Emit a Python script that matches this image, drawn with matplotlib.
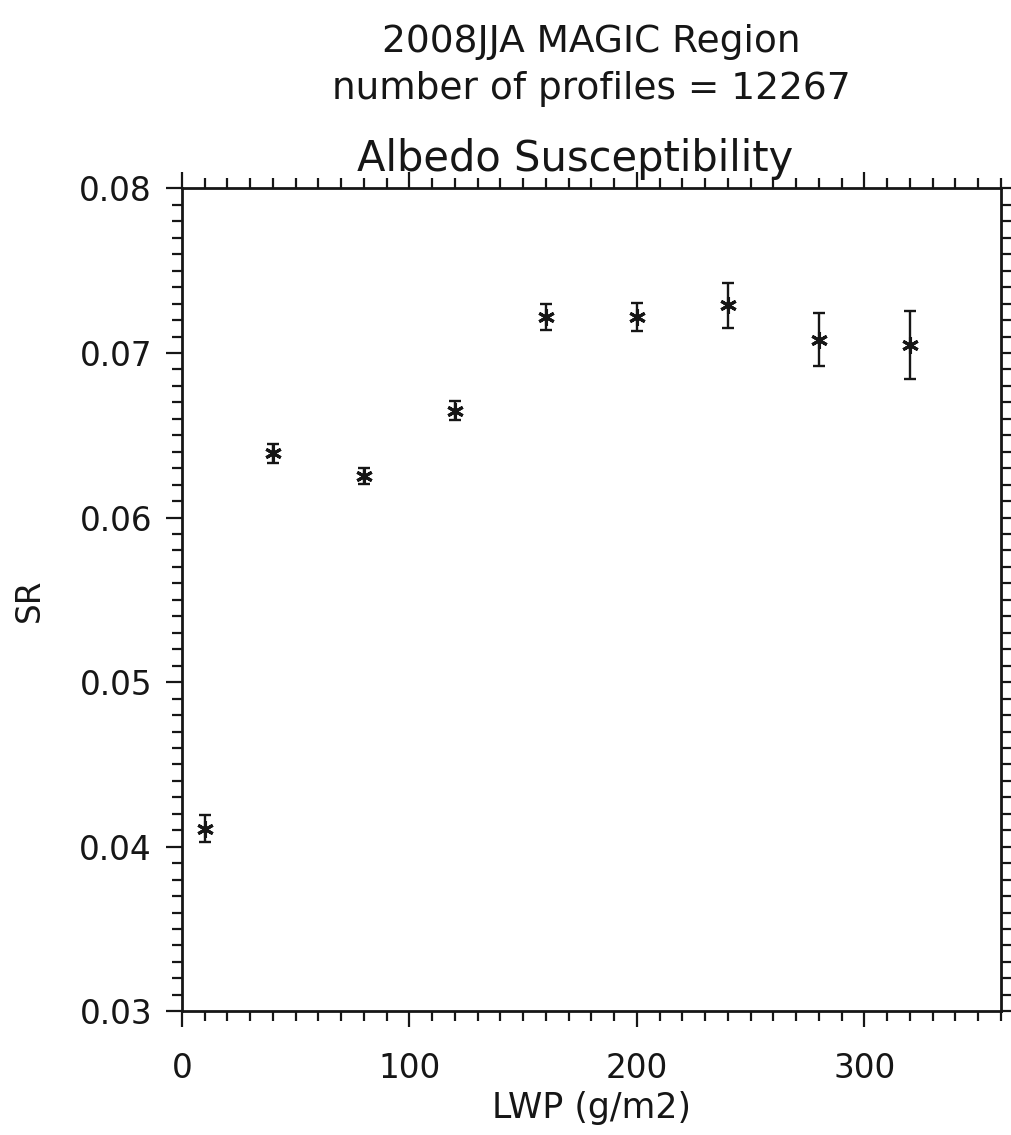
"""
Albedo susceptibility vs LWP (2008 JJA, MAGIC region)
"""

import numpy as np
import matplotlib
matplotlib.use("Agg")
import matplotlib.pyplot as plt
from matplotlib.ticker import MultipleLocator, FormatStrFormatter

# ---- data ----
lwp     = [10, 40, 80, 120, 160, 200, 240, 280, 320]
sr      = [0.0411, 0.0639, 0.0625, 0.0665, 0.0722, 0.0722, 0.0729, 0.0708, 0.0705]
sr_err  = [0.00084, 0.00057, 0.00049, 0.00059, 0.00079, 0.00084, 0.00138, 0.00162, 0.00208]
x_ticks = [0, 100, 200, 300]
y_ticks = [0.03, 0.04, 0.05, 0.06, 0.07, 0.08]

TITLE1 = "2008JJA MAGIC Region"
TITLE2 = "number of profiles = 12267"
TITLE3 = "Albedo Susceptibility"
# --------------

plt.rcParams['font.family'] = 'DejaVu Sans'
ink = '#161616'

fig = plt.figure(figsize=(10.11, 11.35), dpi=100)
ax = fig.add_axes([0.180, 0.109, 0.810, 0.725])

ax.errorbar(lwp, sr, yerr=sr_err, fmt='none', ecolor=ink,
            elinewidth=1.7, capsize=4, capthick=1.7)
ax.plot(lwp, sr, linestyle='none', marker=(6, 2, 0), markersize=12,
        markeredgewidth=2.2, color=ink)

ax.set_xlim(0, 360)
ax.set_ylim(0.03, 0.08)
ax.set_xticks(x_ticks)
ax.set_yticks(y_ticks)
ax.xaxis.set_minor_locator(MultipleLocator(10))
ax.yaxis.set_minor_locator(MultipleLocator(0.001))
ax.yaxis.set_major_formatter(FormatStrFormatter('%.2f'))

for s in ax.spines.values():
    s.set_linewidth(2.0)
    s.set_color(ink)

ax.tick_params(which='both', direction='out', top=True, right=True,
               color=ink, labelsize=23.5, labelcolor=ink)
ax.tick_params(which='major', length=11.5, width=1.6)
ax.tick_params(which='minor', length=7, width=1.6)
ax.tick_params(axis='y', which='major', pad=10)
ax.tick_params(axis='x', which='major', pad=18)

ax.set_xlabel("LWP (g/m2)", fontsize=25, color=ink, labelpad=4)
ax.set_ylabel("SR", fontsize=23.5, color=ink, labelpad=24)

fig.text(0.585, 0.963, TITLE1, ha='center', va='center', fontsize=27, color=ink)
fig.text(0.585, 0.922, TITLE2, ha='center', va='center', fontsize=27, color=ink)
fig.text(0.569, 0.860, TITLE3, ha='center', va='center', fontsize=30, color=ink)

plt.savefig("out.png", dpi=100)
